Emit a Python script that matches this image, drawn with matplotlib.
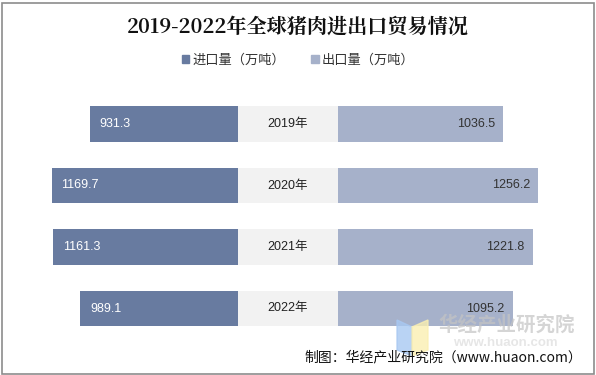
import matplotlib
matplotlib.use("Agg")
import matplotlib.pyplot as plt
from matplotlib.patches import Rectangle, Polygon

plt.rcParams['font.family'] = ['Liberation Sans', 'Noto Sans CJK SC', 'DejaVu Sans']

years = ["2019年", "2020年", "2021年", "2022年"]
imports = [931.3, 1169.7, 1161.3, 989.1]
exports = [1036.5, 1256.2, 1221.8, 1095.2]
series_names = ["进口量（万吨）", "出口量（万吨）"]

c_imp = "#687BA0"
c_exp = "#A6B1CA"
c_band = "#F2F2F2"

W, H = 596, 375
fig = plt.figure(figsize=(W / 100, H / 100), dpi=100)

# scale: pixels per unit
s = 0.1594
gap = 100 / s  # width of the year band in data units
ax = fig.add_axes([0, 1 - 339.25 / H, 1, 246 / H])
ax.set_xlim(-238 / s, (W - 238) / s)
ax.set_ylim(3.5, -0.5)
ax.axis("off")

ypos = range(len(years))
bh = 0.585
ax.barh(ypos, [-v for v in imports], left=0, height=bh, color=c_imp)
ax.barh(ypos, [gap] * len(years), left=0, height=bh, color=c_band)
ax.barh(ypos, exports, left=gap, height=bh, color=c_exp)

for i, (yr, a, b) in enumerate(zip(years, imports, exports)):
    ax.text(-a + 10 / s, i, f"{a:.1f}", ha="left", va="center", color="white", fontsize=9)
    ax.text(gap / 2, i, yr, ha="center", va="center", color="#222222", fontsize=9)
    ax.text(gap + b - 8 / s, i, f"{b:.1f}", ha="right", va="center", color="#333333", fontsize=9)

# title
fig.text(0.5, 1 - 27 / H, "2019-2022年全球猪肉进出口贸易情况", ha="center", va="center",
         fontsize=14.5, fontweight="bold", family=["Noto Serif CJK SC", "Noto Sans CJK SC"], color="#111111")

# legend
handles = [Rectangle((0, 0), 1, 1, color=c_imp), Rectangle((0, 0), 1, 1, color=c_exp)]
leg = fig.legend(handles, series_names, loc="center", bbox_to_anchor=(0.5, 1 - 60 / H), ncol=2,
                 frameon=False, fontsize=9.5, handlelength=0.6, handleheight=0.6,
                 handletextpad=0.2, columnspacing=2.0)
for t in leg.get_texts():
    t.set_color("#333333")
    t.set_family(["Noto Sans CJK SC"])

# watermark
fig.patches.append(Polygon([(397 / W, 1 - 320 / H), (412 / W, 1 - 327 / H), (412 / W, 1 - 356 / H), (397 / W, 1 - 350 / H)],
                           closed=True, transform=fig.transFigure, color="#A8C8F2", alpha=0.8))
fig.patches.append(Polygon([(412 / W, 1 - 327 / H), (428 / W, 1 - 320 / H), (428 / W, 1 - 350 / H), (412 / W, 1 - 356 / H)],
                           closed=True, transform=fig.transFigure, color="#FAEFB2", alpha=0.8))
fig.text(507 / W, 1 - 325 / H, "华经产业研究院", ha="center", va="center", fontsize=14,
         fontweight="bold", color="#C4C4C4", alpha=0.7, family=["Noto Sans CJK SC"])
fig.text(505 / W, 1 - 342.5 / H, "www.huaon.com", ha="center", va="center", fontsize=9.5,
         fontweight="bold", color="#D6D6D6", alpha=0.6)

# source
fig.text(582 / W, 1 - 357 / H, "制图：华经产业研究院（www.huaon.com）", ha="right", va="center",
         fontsize=10, color="#111111", family=["Noto Sans CJK SC"])

# border
fig.patches.append(Rectangle((1.5 / W, 1.5 / H), (W - 3.5) / W, (H - 4) / H, transform=fig.transFigure,
                             fill=False, edgecolor="#8C8C8C", linewidth=1.2))

fig.savefig("out.png", dpi=100)
